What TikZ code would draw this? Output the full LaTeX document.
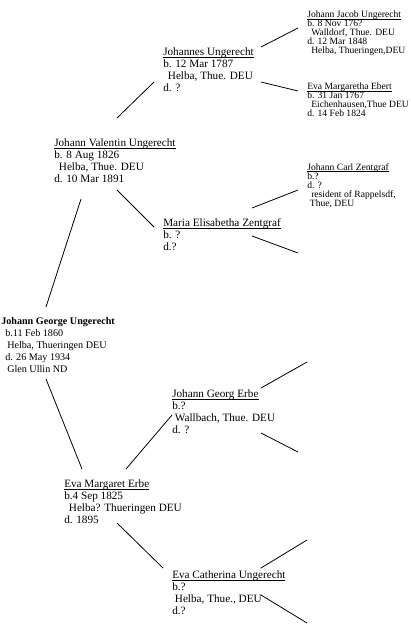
\documentclass[tikz,border=0pt]{standalone}
\usepackage{fontspec}
\setmainfont{Liberation Serif}

\newcommand\uname[1]{\setbox0\hbox{#1}\rlap{\rule[-1.2pt]{\wd0}{0.45pt}}\box0}

\begin{document}
\begin{tikzpicture}[
    x=0.75pt, y=-0.75pt,
    person/.style={anchor=north west, align=left, inner sep=0pt, font=\fontsize{8.4}{9}\selectfont},
    small/.style={person, font=\fontsize{7.2}{6.75}\selectfont},
    link/.style={line width=0.6pt}
]
\useasboundingbox (0,0) rectangle (411,633);
% generation 1
\node[person, font=\fontsize{7.6}{9}\selectfont] (george) at (1,317.5)
  {\textbf{Johann George Ungerecht}\\\hspace*{3pt}b.11 Feb 1860\\\hspace*{4.5pt}Helba, Thueringen DEU\\\hspace*{3pt}d. 26 May 1934\\\hspace*{4.5pt}Glen Ullin ND};
% generation 2
\node[person] (valentin) at (54,138.5)
  {\uname{Johann Valentin Ungerecht}\\b. 8 Aug 1826\\\hspace*{3.5pt}Helba, Thue. DEU\\d. 10 Mar 1891};
\node[person] (margaret) at (64,479.5)
  {\uname{Eva Margaret Erbe}\\b.4 Sep 1825\\\hspace*{3.5pt}Helba? Thueringen DEU\\d. 1895};
% generation 3
\node[person] (johannes) at (163,47.5)
  {\uname{Johannes Ungerecht}\\b. 12 Mar 1787\\\hspace*{3.5pt}Helba, Thue. DEU\\d. ?};
\node[person] (maria) at (163,218.5)
  {\uname{Maria Elisabetha Zentgraf}\\b. ?\\d.?};
\node[person] (georg) at (172,389.5)
  {\uname{Johann Georg Erbe}\\b.?\\\hspace*{2pt}Wallbach, Thue. DEU\\d. ?};
\node[person] (catherina) at (172,570.5)
  {\uname{Eva Catherina Ungerecht}\\b.?\\\hspace*{2pt}Helba, Thue., DEU\\d.?};
% generation 4
\node[small] (jacob) at (307,11)
  {\uname{Johann Jacob Ungerecht}\\b. 8 Nov 176?\\\hspace*{3pt}Walldorf, Thue. DEU\\d. 12 Mar 1848\\\hspace*{3pt}Helba, Thueringen,DEU};
\node[small] (ebert) at (307,83)
  {\uname{Eva Margaretha Ebert}\\b. 31 Jan 1767\\\hspace*{3pt}Eichenhausen,Thue DEU\\d. 14 Feb 1824};
\node[small] (carl) at (307,163)
  {\uname{Johann Carl Zentgraf}\\b.?\\d. ?\\\hspace*{3pt}resident of Rappelsdf,\\\hspace*{2pt}Thue, DEU};
% open ends
\coordinate (maria-m) at (298,253);
\coordinate (georg-f) at (307,362);
\coordinate (georg-m) at (298,452);
\coordinate (catherina-f) at (307,540);
\coordinate (catherina-m) at (307,623);

\draw[link] ([shift={(45,-10.5)}]george.north west) -- ([shift={(27,60.5)}]valentin.north west);
\draw[link] ([shift={(45,61.5)}]george.north west) -- ([shift={(18,-10.5)}]margaret.north west);
\draw[link] ([shift={(63,-20.5)}]valentin.north west) -- ([shift={(-9,34.5)}]johannes.north west);
\draw[link] ([shift={(63,51.5)}]valentin.north west) -- ([shift={(-9,8.5)}]maria.north west);
\draw[link] ([shift={(98,-0.5)}]johannes.north west) -- ([shift={(-9,17)}]jacob.north west);
\draw[link] ([shift={(98,34.5)}]johannes.north west) -- ([shift={(-9,8)}]ebert.north west);
\draw[link] ([shift={(89,-10.5)}]maria.north west) -- ([shift={(-9,27)}]carl.north west);
\draw[link] ([shift={(89,17.5)}]maria.north west) -- (maria-m);
\draw[link] ([shift={(62,-10.5)}]margaret.north west) -- ([shift={(0,25.5)}]georg.north west);
\draw[link] ([shift={(53,43.5)}]margaret.north west) -- ([shift={(-9,-2.5)}]catherina.north west);
\draw[link] ([shift={(89,-1.5)}]georg.north west) -- (georg-f);
\draw[link] ([shift={(89,43.5)}]georg.north west) -- (georg-m);
\draw[link] ([shift={(89,-2.5)}]catherina.north west) -- (catherina-f);
\draw[link] ([shift={(89,24.5)}]catherina.north west) -- (catherina-m);
\end{tikzpicture}
\end{document}
